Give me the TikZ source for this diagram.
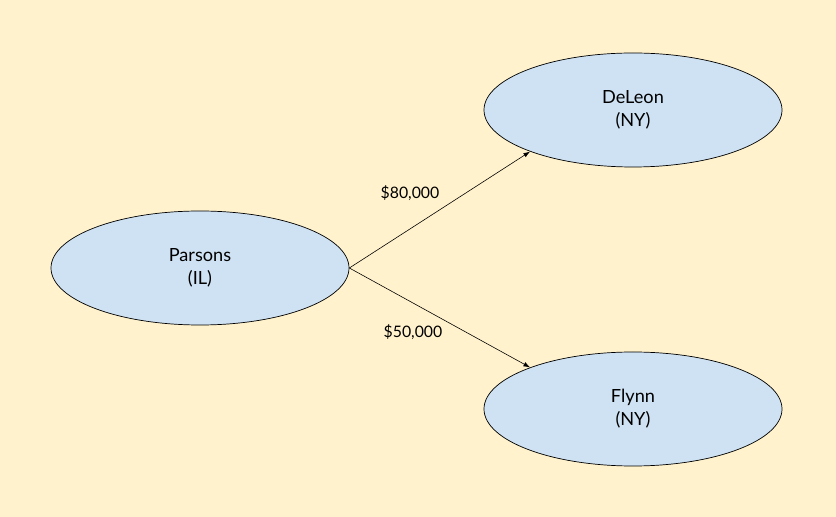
\documentclass[tikz,border=0pt]{standalone}
\usepackage{fontspec}
\setmainfont{Lato}
\usetikzlibrary{shapes.geometric, arrows.meta, positioning}
\definecolor{paper}{HTML}{FFF2CC}
\definecolor{state}{HTML}{CFE2F3}

\begin{document}
\begin{tikzpicture}[x=0.03cm, y=-0.03cm]
% TikZ styles
\tikzset{
  person/.style={ellipse, draw=black, fill=state, line width=0.6pt, inner sep=0pt,
    minimum width=8.94cm, minimum height=3.42cm, align=center,
    font=\fontsize{15.5}{19.5}\selectfont},
  amount/.style={font=\fontsize{13.5}{16}\selectfont, inner sep=0pt},
  arrow/.style={-{Latex[length=2mm, width=1.4mm]}, line width=0.5pt}
};

% === Hintergrund ===
\fill[paper] (0,0) rectangle (836,517);
\useasboundingbox (0,0) rectangle (836,517);

% === Personen ===
\node[person] (parsons) at (200,268) {Parsons\\(IL)};
\node[person] (deleon)  at (633,110) {DeLeon\\(NY)};
\node[person] (flynn)   at (633,409) {Flynn\\(NY)};

% === Pfeile ===
\draw[arrow] (parsons.east) -- (deleon.202);
\draw[arrow] (parsons.east) -- (flynn.158);

% === Beträge ===
\node[amount] (eighty) at (410,193) {\$80,000};
\node[amount] (fifty)  at (413,332) {\$50,000};
\end{tikzpicture}
\end{document}
